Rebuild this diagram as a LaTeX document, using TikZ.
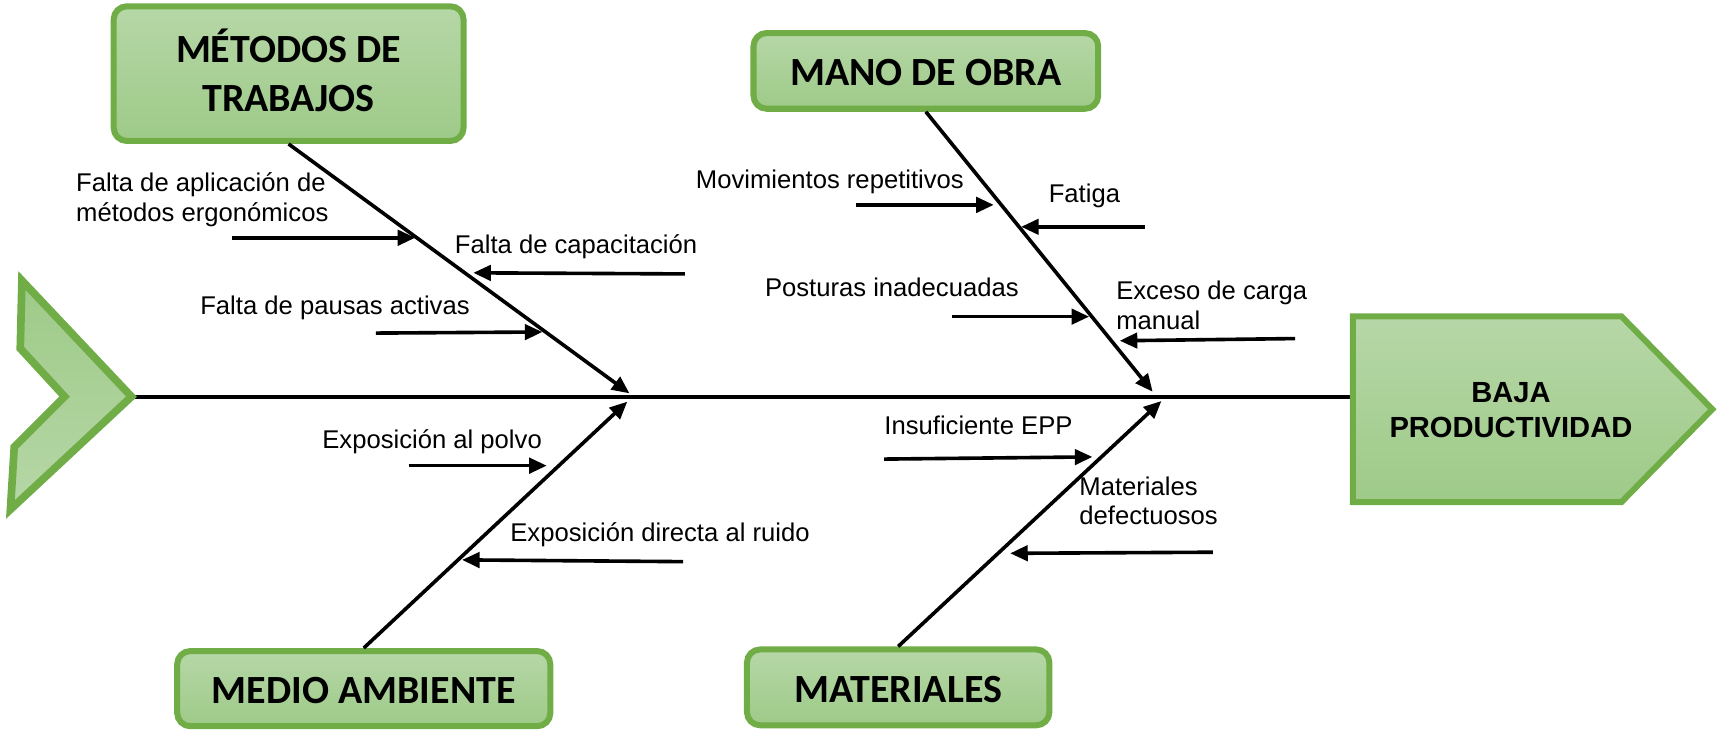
\documentclass[tikz,border=0pt]{standalone}
\usepackage{fontspec}
\setmainfont{Liberation Sans}
\newfontfamily\boxfont{Carlito}
\usetikzlibrary{arrows.meta}
\definecolor{gborder}{RGB}{112,173,71}
\definecolor{gtop}{RGB}{182,215,167}
\definecolor{gbot}{RGB}{158,202,136}
\newcommand{\twolines}[2]{\begin{tabular}[t]{@{}l@{}}#1\\#2\end{tabular}}
\newcommand{\twocenter}[2]{\begin{tabular}[t]{@{}c@{}}#1\\#2\end{tabular}}
\begin{document}
\begin{tikzpicture}[x=1pt,y=-1pt,
  catbox/.style={draw=gborder, line width=5.5pt, rounded corners=12pt, top color=gtop, bottom color=gbot,
    inner sep=0pt, font=\boxfont\bfseries\fontsize{36.5}{44.7}\selectfont, text height=27pt, text depth=0pt},
  lbl/.style={anchor=base west, inner sep=0pt, font=\fontsize{23.4}{27}\selectfont},
  bone/.style={line width=3.3pt, -{Triangle[length=16pt,width=14pt]}},
  cause/.style={line width=3.3pt, -{Triangle[length=16pt,width=14pt]}},
  spine/.style={line width=4pt},
  shapefill/.style={draw=gborder, line width=5.5pt, top color=gtop, bottom color=gbot, line join=miter}]

\useasboundingbox (0,0) rectangle (1568,667);

% spine
\coordinate (chev) at (120,362.5);
\coordinate (resw) at (1234.75,362.5);
\draw[spine] (chev) -- (resw);

% tail chevron
\path[draw=gborder, line width=7pt, top color=gbot, bottom color=gtop, line join=miter]
  (20,256) -- (120,362) -- (9.5,465) -- (13,408) -- (59,362) -- (18.5,318) -- cycle;

% head
\path[shapefill] (1234.75,288.75) -- (1479.9,288.75) -- (1562.8,373.5) -- (1479.9,458.25) -- (1234.75,458.25) -- cycle;
\node[font=\bfseries\fontsize{26.6}{31.5}\selectfont, inner sep=0pt, text height=20pt, text depth=33pt]
  (res) at (1379,374) {\twocenter{BAJA}{PRODUCTIVIDAD}};

% category boxes
\node[catbox, minimum width=319.3pt, minimum height=122.9pt, text height=25pt, text depth=45pt]
  (met) at (263.4,67.2) {\twocenter{MÉTODOS DE}{TRABAJOS}};
\node[catbox, minimum width=314.6pt, minimum height=69.1pt] (mano) at (845,64.7) {MANO DE OBRA};
\node[catbox, minimum width=340.5pt, minimum height=68.6pt] (medio) at (332,628.5) {MEDIO AMBIENTE};
\node[catbox, minimum width=276pt, minimum height=69.2pt] (mat) at (819.75,627.35) {MATERIALES};

% bones
\coordinate (metE) at (574.5,359);
\coordinate (manoE) at (1052,357.5);
\coordinate (medioE) at (572.5,366.6);
\coordinate (matE) at (1060,366);
\draw[bone] (met.south) -- (metE);
\draw[bone] (mano.south) -- (manoE);
\draw[bone] (medio.north) -- (medioE);
\draw[bone] (mat.north) -- (matE);

% causes: Métodos de trabajos
\node[lbl] (t1) at (69.3,175) {\twolines{Falta de aplicación de}{métodos ergonómicos}};
\coordinate (c1s) at (212,217); \coordinate (c1e) at (379,217);
\draw[cause] (c1s) -- (c1e);
\node[lbl] (t2) at (415,231) {Falta de capacitación};
\coordinate (c2s) at (625,250); \coordinate (c2e) at (432,249);
\draw[cause] (c2s) -- (c2e);
\node[lbl] (t3) at (182.6,287) {Falta de pausas activas};
\coordinate (c3s) at (343,304); \coordinate (c3e) at (495,303);
\draw[cause] (c3s) -- (c3e);

% causes: Medio ambiente
\node[lbl] (t4) at (294,409) {Exposición al polvo};
\coordinate (c4s) at (373,425); \coordinate (c4e) at (499,425);
\draw[cause] (c4s) -- (c4e);
\node[lbl] (t5) at (465.6,494.4) {Exposición directa al ruido};
\coordinate (c5s) at (623.5,512.6); \coordinate (c5e) at (421.7,511);
\draw[cause] (c5s) -- (c5e);

% causes: Mano de obra
\node[lbl] (t6) at (635,172) {Movimientos repetitivos};
\coordinate (c6s) at (781,187); \coordinate (c6e) at (907,187);
\draw[cause] (c6s) -- (c6e);
\node[lbl] (t7) at (957,185) {Fatiga};
\coordinate (c7s) at (1044.6,207); \coordinate (c7e) at (932,207);
\draw[cause] (c7s) -- (c7e);
\node[lbl] (t8) at (698,270.8) {Posturas inadecuadas};
\coordinate (c8s) at (869,289); \coordinate (c8e) at (994,289);
\draw[cause] (c8s) -- (c8e);
\node[lbl] (t9) at (1018.6,273.8) {\twolines{Exceso de carga}{manual}};
\coordinate (c9s) at (1182,309); \coordinate (c9e) at (1022,311);
\draw[cause] (c9s) -- (c9e);

% causes: Materiales
\node[lbl] (t10) at (807,397) {Insuficiente EPP};
\coordinate (c10s) at (807,419); \coordinate (c10e) at (997,417);
\draw[cause] (c10s) -- (c10e);
\node[lbl] (t11) at (985,452) {\twolines{Materiales}{defectuosos}};
\coordinate (c11s) at (1107,504); \coordinate (c11e) at (922,505);
\draw[cause] (c11s) -- (c11e);

\end{tikzpicture}
\end{document}
